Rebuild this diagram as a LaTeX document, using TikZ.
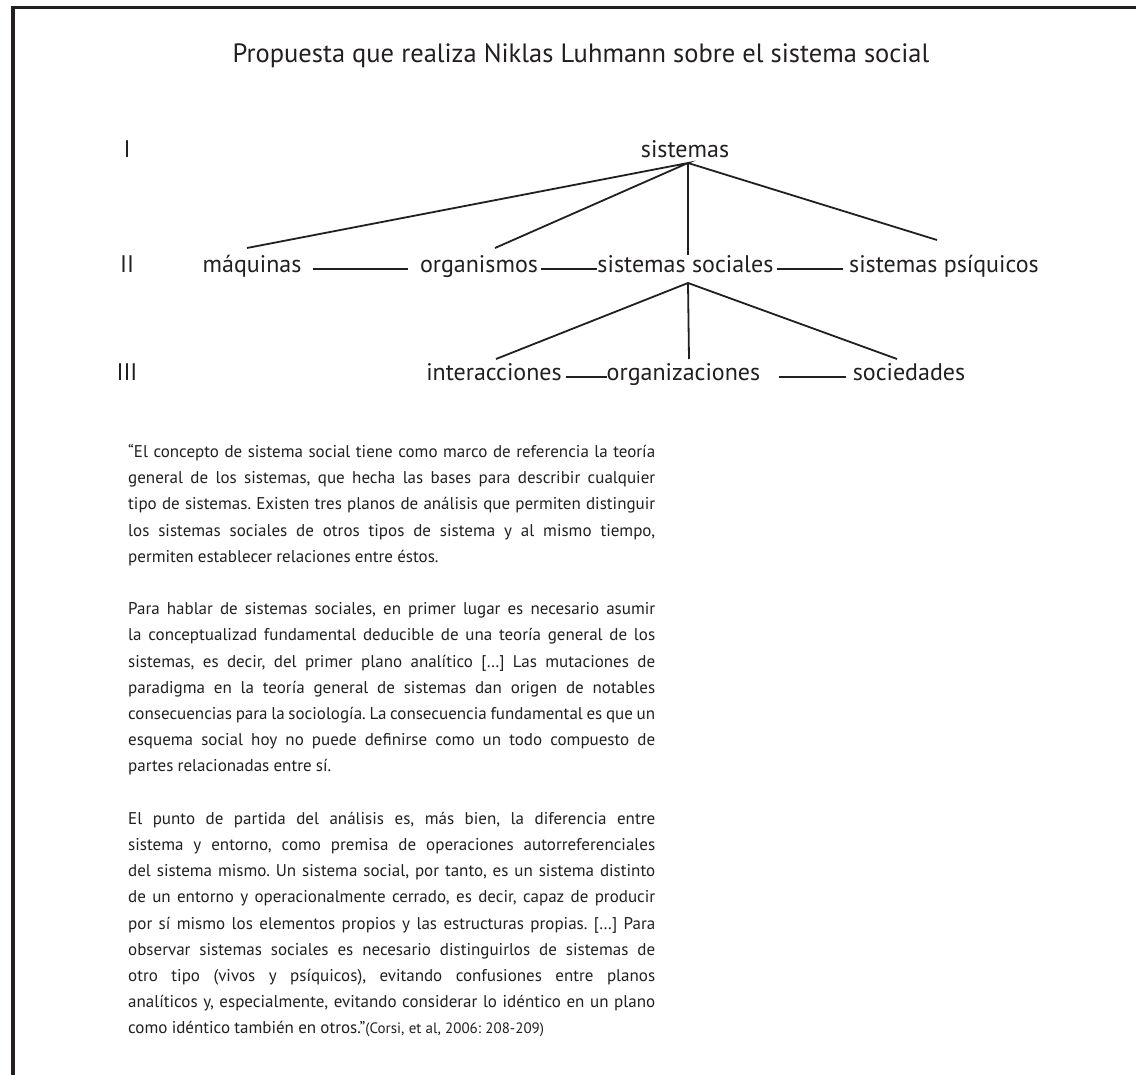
\documentclass[tikz,border=0pt]{standalone}
\usepackage{fontspec}
\setmainfont{PT Sans}
\usetikzlibrary{calc}
\definecolor{ink}{HTML}{231F20}
% one justified line of the quotation, and a final (ragged) line
\newcommand\jline[1]{\hbox to \hsize{#1}}
\newcommand\lastline[1]{\hbox{#1}}
% settings shared by the three paragraphs of the quotation
\newcommand\quoteset{\hsize=527pt \baselineskip=26.2pt \lineskiplimit=-40pt
  \frenchspacing \spaceskip=0.25em plus 1em minus 0.08em}
\begin{document}
\begin{tikzpicture}[x=1pt,y=-1pt,
  every node/.style={text=ink, inner sep=0pt},
  title/.style={font=\fontsize{26.5}{30}\selectfont, anchor=base},
  lbl/.style={font=\fontsize{24}{28}\selectfont, anchor=base},
  level/.style={font=\fontsize{24}{28}\selectfont, anchor=base},
  link/.style={draw=ink, line width=1.8pt},
  para/.style={anchor=base west, font=\fontsize{17}{26}\selectfont}]
\useasboundingbox (0,0) rectangle (1136,1075);
\fill[white] (0,0) rectangle (1136,1075);
\draw[ink, line width=3.5pt] (13,1075) -- (13,7.5) -- (1136,7.5);

% title
\node[title] (ttl) at (581,63) {Propuesta que realiza Niklas Luhmann sobre el sistema social};

% level numerals
\node[level] (l1) at (127,158) {I};
\node[level] (l2) at (127,273) {II};
\node[level] (l3) at (127,381) {III};

% level I
\node[lbl] (sis) at (685,158) {sistemas};
% level II
\node[lbl] (maq) at (252,273) {máquinas};
\node[lbl] (org) at (479,273) {organismos};
\node[lbl] (ssoc) at (685.5,273) {sistemas sociales};
\node[lbl] (psi) at (944,273) {sistemas psíquicos};
% level III
\node[lbl] (inter) at (494,381) {interacciones};
\node[lbl] (orgz) at (683.5,381) {organizaciones};
\node[lbl] (soc) at (909,381) {sociedades};

% tree branches
\coordinate (top) at ($(sis.base)+(3,5)$);
\draw[link] ($(maq.base)+(-5,-25)$) -- (top) -- ($(org.base)+(16,-25)$);
\draw[link] (top) -- ($(ssoc.base)+(2.5,-18)$);
\draw[link] (top) -- ($(psi.base)+(-7,-33)$);
\coordinate (mid) at ($(ssoc.base)+(2.5,10)$);
\draw[link] ($(inter.base)+(2,-22)$) -- (mid) -- ($(soc.base)+(-12,-22)$);
\draw[link] (mid) -- ($(orgz.base)+(5.5,-22)$);

% horizontal ties within a level
\draw[link] ($(maq.base)+(61,-4)$) -- ($(org.base)+(-71,-4)$);
\draw[link] ($(org.base)+(62,-4)$) -- ($(ssoc.base)+(-88.5,-4)$);
\draw[link] ($(ssoc.base)+(91.5,-4)$) -- ($(psi.base)+(-101,-4)$);
\draw[link] ($(inter.base)+(72,-4)$) -- ($(orgz.base)+(-76.5,-4)$);
\draw[link] ($(orgz.base)+(95.5,-4)$) -- ($(soc.base)+(-63,-4)$);

% quotation
\node[para] (q1) at (128,457.5) {\vtop{\quoteset
\jline{“El concepto de sistema social tiene como marco de referencia la teoría}
\jline{general de los sistemas, que hecha las bases para describir cualquier}
\jline{tipo de sistemas. Existen tres planos de análisis que permiten distinguir}
\jline{los sistemas sociales de otros tipos de sistema y al mismo tiempo,}
\lastline{permiten establecer relaciones entre éstos.}}};

\node[para] (q2) at (128,614.7) {\vtop{\quoteset
\jline{Para hablar de sistemas sociales, en primer lugar es necesario asumir}
\jline{la conceptualizad fundamental deducible de una teoría general de los}
\jline{sistemas, es decir, del primer plano analítico […] Las mutaciones de}
\jline{paradigma en la teoría general de sistemas dan origen de notables}
\jline{consecuencias para la sociología. La consecuencia fundamental es que un}
\jline{esquema social hoy no puede definirse como un todo compuesto de}
\lastline{partes relacionadas entre sí.}}};

\node[para] (q3) at (128,824.3) {\vtop{\quoteset
\jline{El punto de partida del análisis es, más bien, la diferencia entre}
\jline{sistema y entorno, como premisa de operaciones autorreferenciales}
\jline{del sistema mismo. Un sistema social, por tanto, es un sistema distinto}
\jline{de un entorno y operacionalmente cerrado, es decir, capaz de producir}
\jline{por sí mismo los elementos propios y las estructuras propias. […] Para}
\jline{observar sistemas sociales es necesario distinguirlos de sistemas de}
\jline{otro tipo (vivos y psíquicos), evitando confusiones entre planos}
\jline{analíticos y, especialmente, evitando considerar lo idéntico en un plano}
\lastline{como idéntico también en otros.”{\fontsize{15}{26}\selectfont(Corsi, et al, 2006: 208-209)}}}};
\end{tikzpicture}
\end{document}
